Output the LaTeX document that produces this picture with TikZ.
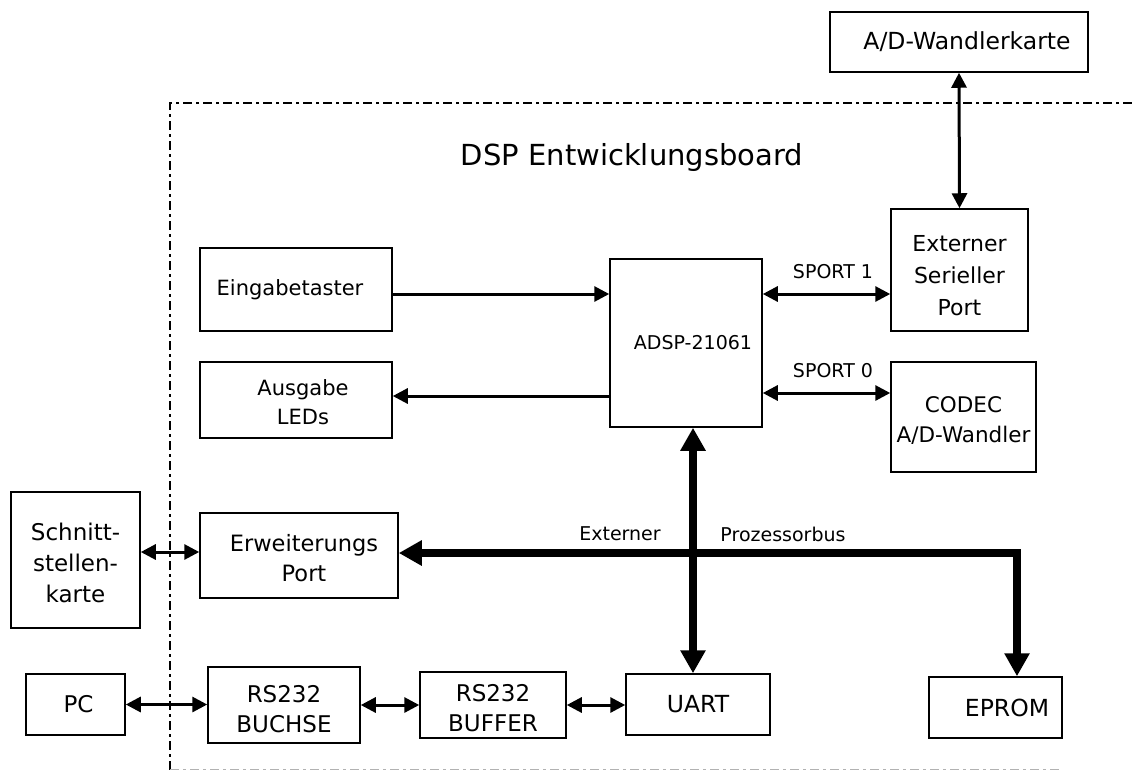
\documentclass[tikz,border=0pt]{standalone}
\usepackage{fontspec}
\setmainfont{DejaVu Sans}
\usetikzlibrary{arrows.meta}
\begin{document}
\begin{tikzpicture}[x=1pt,y=-1pt,
  box/.style={draw, line width=1.5pt, align=center, inner sep=0pt, font=\fontsize{22}{30}\selectfont},
  lbl/.style={font=\fontsize{19}{23}\selectfont, inner sep=0pt},
  thinarrow/.style={line width=3pt, -{Triangle[length=15pt,width=15pt]}},
  dblarrow/.style={line width=3pt, {Triangle[length=15pt,width=15pt]}-{Triangle[length=15pt,width=15pt]}},
  bus/.style={line width=8.5pt, line join=miter, {Triangle[length=23pt,width=24pt]}-{Triangle[length=23pt,width=24pt]}},
  board/.style={line width=2.7pt, dash pattern=on 9pt off 4pt on 3pt off 4pt}]
\useasboundingbox (0,0) rectangle (1132,772);

% board outline
\draw[board] (1132,103) -- (170,103) -- (170,772);
\draw[board, line width=1.5pt, black!30] (170,769.5) -- (1062,769.5);

\node[font=\fontsize{29}{34}\selectfont, inner sep=0pt] (title) at (632,157) {DSP Entwicklungsboard};

% boxes
\node[box, minimum width=258pt, minimum height=60pt, font=\fontsize{23.5}{30}\selectfont] (adw) at (959,42) {\hspace*{16pt}A/D-Wandlerkarte};
\node[box, minimum width=137pt, minimum height=122pt, font=\fontsize{22}{32}\selectfont] (esp) at (959.5,270) {\rule{0pt}{28pt}Externer\\Serieller\\Port};
\node[box, minimum width=152pt, minimum height=168pt, font=\fontsize{19}{23}\selectfont] (adsp) at (686,343) {\hspace*{14pt}ADSP-21061};
\node[box, minimum width=145pt, minimum height=110pt, font=\fontsize{21.5}{30}\selectfont] (codec) at (963.5,417) {\rule{0pt}{22pt}CODEC\\A/D-Wandler};
\node[box, minimum width=192pt, minimum height=83pt, font=\fontsize{21}{29}\selectfont] (eing) at (296,289.5) {Eingabetaster\hspace*{12pt}};
\node[box, minimum width=192pt, minimum height=76pt, font=\fontsize{21}{29}\selectfont] (led) at (296,400) {\rule{0pt}{20pt}\hspace*{14pt}Ausgabe\\\hspace*{14pt}LEDs};
\node[box, minimum width=129pt, minimum height=136pt, font=\fontsize{23}{31}\selectfont] (schn) at (75.5,560) {\rule{0pt}{24pt}Schnitt-\\stellen-\\karte};
\node[box, minimum width=198pt, minimum height=85pt, font=\fontsize{22.5}{30}\selectfont] (erw) at (299,555.5) {\rule{0pt}{22pt}\hspace*{10pt}Erweiterungs\\\hspace*{10pt}Port};
\node[box, minimum width=99pt, minimum height=61pt, font=\fontsize{23}{30}\selectfont] (pc) at (75.5,704.5) {\hspace*{6pt}PC};
\node[box, minimum width=152pt, minimum height=76pt, font=\fontsize{23}{30}\selectfont] (buchse) at (284,705) {\rule{0pt}{26pt}RS232\\BUCHSE};
\node[box, minimum width=146pt, minimum height=66pt, font=\fontsize{23}{30}\selectfont] (buffer) at (493,705) {\rule{0pt}{24pt}RS232\\BUFFER};
\node[box, minimum width=144pt, minimum height=61pt, font=\fontsize{23.5}{30}\selectfont] (uart) at (698,704.5) {UART};
\node[box, minimum width=133pt, minimum height=61pt, font=\fontsize{23.5}{30}\selectfont] (eprom) at (995.5,707.5) {\hspace*{23pt}EPROM};

% labels
\node[lbl] (s1) at (833,272) {SPORT 1};
\node[lbl] (s0) at (833,371) {SPORT 0};
\node[lbl] (ext) at (620,534) {Externer};
\node[lbl] (proz) at (783,534) {Prozessorbus};

% thin connectors
\draw[dblarrow] (adw.south) -- (esp.north);
\draw[thinarrow] (eing.east |- 0,294) -- (adsp.west |- 0,294);
\draw[dblarrow] (adsp.east |- 0,294) -- (esp.west |- 0,294);
\draw[dblarrow] (adsp.east |- 0,393) -- (codec.west |- 0,393);
\draw[thinarrow] (adsp.west |- 0,396) -- (led.east |- 0,396);
\draw[dblarrow] (schn.east |- 0,552) -- (erw.west |- 0,552);
\draw[dblarrow] (pc.east) -- (buchse.west |- pc.east);
\draw[dblarrow] (buchse.east) -- (buffer.west);
\draw[dblarrow] (buffer.east) -- (uart.west |- buffer.east);

% bus
\coordinate (bj) at (693,553);
\coordinate (bc) at (1017,553);
\draw[bus] (adsp.south -| bj) -- (uart.north -| bj);
\draw[bus] (erw.east |- bc) -- (bc) -- (bc |- eprom.north);
\end{tikzpicture}
\end{document}
